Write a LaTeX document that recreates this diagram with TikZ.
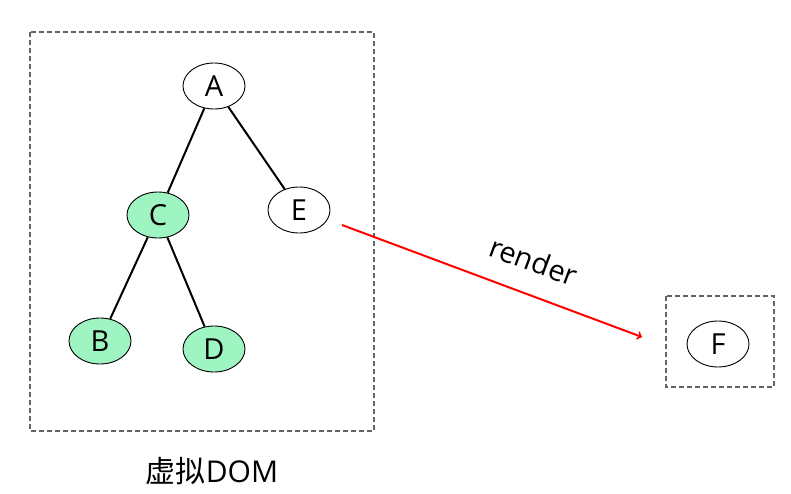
\documentclass[tikz,border=0pt]{standalone}
\usepackage{fontspec}
\setmainfont{Open Sans}
\newfontfamily\cjk{Noto Sans CJK SC}
\usetikzlibrary{arrows}
\usetikzlibrary{shapes.geometric}
\definecolor{mint}{RGB}{159,245,194}
\definecolor{boxgray}{RGB}{100,100,100}

\begin{document}
\begin{tikzpicture}[x=1pt,y=-1pt,
	vnode/.style={draw, ellipse, line width=0.9pt, minimum width=62pt, minimum height=46pt, inner sep=0pt, font=\fontsize{29}{32}\selectfont},
	changed/.style={vnode, fill=mint},
	frame/.style={draw=boxgray, line width=1.4pt, dash pattern=on 5pt off 3pt}]
	\useasboundingbox (0,0) rectangle (791,494);
	\draw[frame] (30,32) rectangle (374,431);
	\draw[frame] (666,296) rectangle (774,387);
	\node (a) at (214,86) [vnode] {A};
	\node (c) at (158,215) [changed] {C};
	\node (e) at (299,210) [vnode] {E};
	\node (b) at (100,341) [changed] {B};
	\node (d) at (214,349) [changed] {D};
	\node (f) at (718,344) [vnode] {F};
	\node (vdom) at (212,471) {\fontsize{30}{33}\selectfont{\cjk 虚拟}DOM};
	\draw[line width=2pt] (a) -- (c);
	\draw[line width=2pt] (a) -- (e);
	\draw[line width=2pt] (c) -- (b);
	\draw[line width=2pt] (c) -- (d);
	\coordinate (s) at (342,225);
	\coordinate (t) at (642,337);
	\draw[->, red, line width=2pt] (s) -- (t) node[pos=0.6, sloped, above=18pt, font=\fontsize{29}{32}\selectfont, black] {render};
\end{tikzpicture}
\end{document}
